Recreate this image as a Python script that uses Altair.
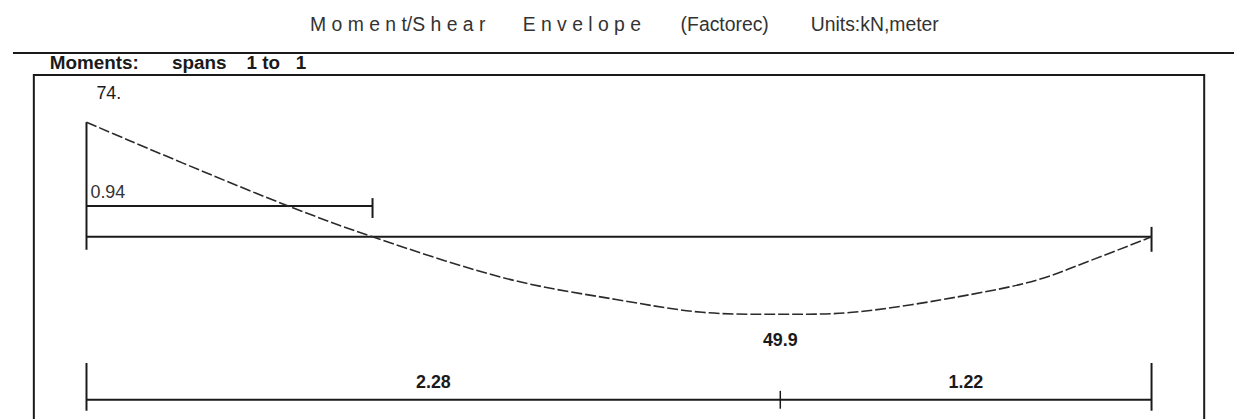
import altair as alt
import pandas as pd

# ---------------- values ----------------
station_m = [0.0, 0.14, 0.389, 0.663, 0.94, 1.394, 1.740, 2.024, 2.28, 2.517, 2.906, 3.128, 3.307, 3.5]
moment_kNm = [-74.0, -62.2, -41.7, -19.9, 0.0, 27.6, 40.4, 48.7, 49.9, 48.7, 37.2, 27.6, 14.7, 0.0]
span_length = 3.5
inflection_at = 0.94
segment_lengths = [2.28, 1.22]
max_moment_at = 2.28
support_label = "74."
max_label = "49.9"
inflection_label = "0.94"
segment_labels = ["2.28", "1.22"]

title_parts = ["M o m e n t/S h e a r", "E n v e l o p e", "(Factorec)", "Units:kN,meter"]
heading_parts = ["Moments:", "spans", "1 to\u00a0\u00a0\u00a01"]

# ---------------- layout ----------------
W, H = 1234, 411
X0_PX, PX_PER_M = 79.0, 1072.0 / 3.5
Y0_PX, PX_PER_KNM = 229.0, 1.56
XMIN, XMAX = -X0_PX / PX_PER_M, (W - X0_PX) / PX_PER_M
YMIN, YMAX = -Y0_PX / PX_PER_KNM, (H - Y0_PX) / PX_PER_KNM

xs = alt.Scale(domain=[XMIN, XMAX], nice=False, zero=False)
ys = alt.Scale(domain=[YMIN, YMAX], nice=False, zero=False, reverse=True)
FONT = "Liberation Sans"
INK = "#1a1a1a"


def X(f):
    return alt.X(f, type="quantitative", scale=xs, axis=None)


def Y(f):
    return alt.Y(f, type="quantitative", scale=ys, axis=None)


def text_piece(t, x, y, size=18, weight="normal", color=INK):
    return alt.Chart(pd.DataFrame({"t": [t]})).mark_text(
        align="left", baseline="middle", font=FONT, fontSize=size,
        fontWeight=weight, color=color
    ).encode(x=alt.value(x), y=alt.value(y), text="t:N")


# title and heading
title_x = [304, 518, 677, 808]
titles = [text_piece(t, x, 16, 19.5, "normal", "#333333") for t, x in zip(title_parts, title_x)]
head_x = [42, 165, 240]
heads = [text_piece(t, x, 54, 19, "bold", INK) for t, x in zip(heading_parts, head_x)]

top_rule = alt.Chart(pd.DataFrame({"a": [0]})).mark_rule(color=INK, strokeWidth=2).encode(
    x=alt.value(5), x2=alt.value(W), y=alt.value(44))

frame = alt.Chart(pd.DataFrame({"a": [0]})).mark_rect(
    fillOpacity=0, stroke=INK, strokeWidth=2).encode(
    x=alt.value(26), x2=alt.value(1204), y=alt.value(66), y2=alt.value(H + 30))

# moment curve
curve_df = pd.DataFrame({"x": station_m, "m": moment_kNm})
curve = alt.Chart(curve_df).mark_line(
    interpolate="catmull-rom", color="#2a2a2a", strokeWidth=1.6, strokeDash=[11, 3]
).encode(x=X("x"), y=Y("m"))

# baseline of span
base_df = pd.DataFrame({"x": [0.0], "x2": [span_length], "m": [0.0]})
baseline = alt.Chart(base_df).mark_rule(color=INK, strokeWidth=2).encode(
    x=X("x"), x2="x2:Q", y=Y("m"))

# left support ordinate
ord_df = pd.DataFrame({"x": [0.0], "m": [moment_kNm[0]]})
ordinate = alt.Chart(ord_df).mark_rule(color=INK, strokeWidth=2).encode(
    x=X("x"), y=Y("m"), y2=alt.value(242))

# right support tick
rtick = alt.Chart(pd.DataFrame({"x": [span_length]})).mark_rule(color=INK, strokeWidth=2).encode(
    x=X("x"), y=alt.value(219), y2=alt.value(244))

# inflection dimension
infl_df = pd.DataFrame({"x": [0.0], "x2": [inflection_at]})
infl_line = alt.Chart(infl_df).mark_rule(color=INK, strokeWidth=2).encode(
    x=X("x"), x2="x2:Q", y=alt.value(198))
infl_tick = alt.Chart(pd.DataFrame({"x": [inflection_at]})).mark_rule(color=INK, strokeWidth=2).encode(
    x=X("x"), y=alt.value(190), y2=alt.value(210))
infl_text = alt.Chart(pd.DataFrame({"x": [0.0], "t": [inflection_label]})).mark_text(
    align="left", baseline="middle", dx=4, font=FONT, fontSize=18, color="#333333"
).encode(x=X("x"), y=alt.value(185), text="t:N")

# support moment label
sup_text = alt.Chart(pd.DataFrame({"x": [0.0], "t": [support_label]})).mark_text(
    align="left", baseline="middle", dx=10, font=FONT, fontSize=18, color=INK
).encode(x=X("x"), y=alt.value(85), text="t:N")

# max moment label
max_text = alt.Chart(pd.DataFrame({"x": [max_moment_at], "t": [max_label]})).mark_text(
    align="center", baseline="middle", font=FONT, fontSize=18, fontWeight="bold", color=INK
).encode(x=X("x"), y=alt.value(334), text="t:N")

# bottom dimension line
starts = [0.0]
for L in segment_lengths[:-1]:
    starts.append(starts[-1] + L)
ends = [s + L for s, L in zip(starts, segment_lengths)]
seg_df = pd.DataFrame({"x": starts, "x2": ends, "mid": [(s + e) / 2 for s, e in zip(starts, ends)],
                       "t": segment_labels})
dim_line = alt.Chart(seg_df).mark_rule(color=INK, strokeWidth=2).encode(
    x=X("x"), x2="x2:Q", y=alt.value(393))
dim_text = alt.Chart(seg_df).mark_text(
    baseline="middle", align="center", font=FONT, fontSize=18, fontWeight="bold", color=INK
).encode(x=X("mid"), y=alt.value(376), text="t:N")
end_ticks = alt.Chart(pd.DataFrame({"x": [0.0, span_length]})).mark_rule(color=INK, strokeWidth=2).encode(
    x=X("x"), y=alt.value(356), y2=alt.value(404))
mid_tick = alt.Chart(pd.DataFrame({"x": [max_moment_at]})).mark_rule(color=INK, strokeWidth=1.5).encode(
    x=X("x"), y=alt.value(384), y2=alt.value(402))

chart = alt.layer(
    frame, top_rule, *titles, *heads,
    baseline, ordinate, rtick, infl_line, infl_tick, curve,
    infl_text, sup_text, max_text, dim_line, dim_text, end_ticks, mid_tick
).properties(
    width=W, height=H, padding=0, autosize=alt.AutoSizeParams(type="none"),
    background="white"
).configure_view(stroke=None)

chart.save("out.html", embed_options={"renderer": "svg", "actions": False})
